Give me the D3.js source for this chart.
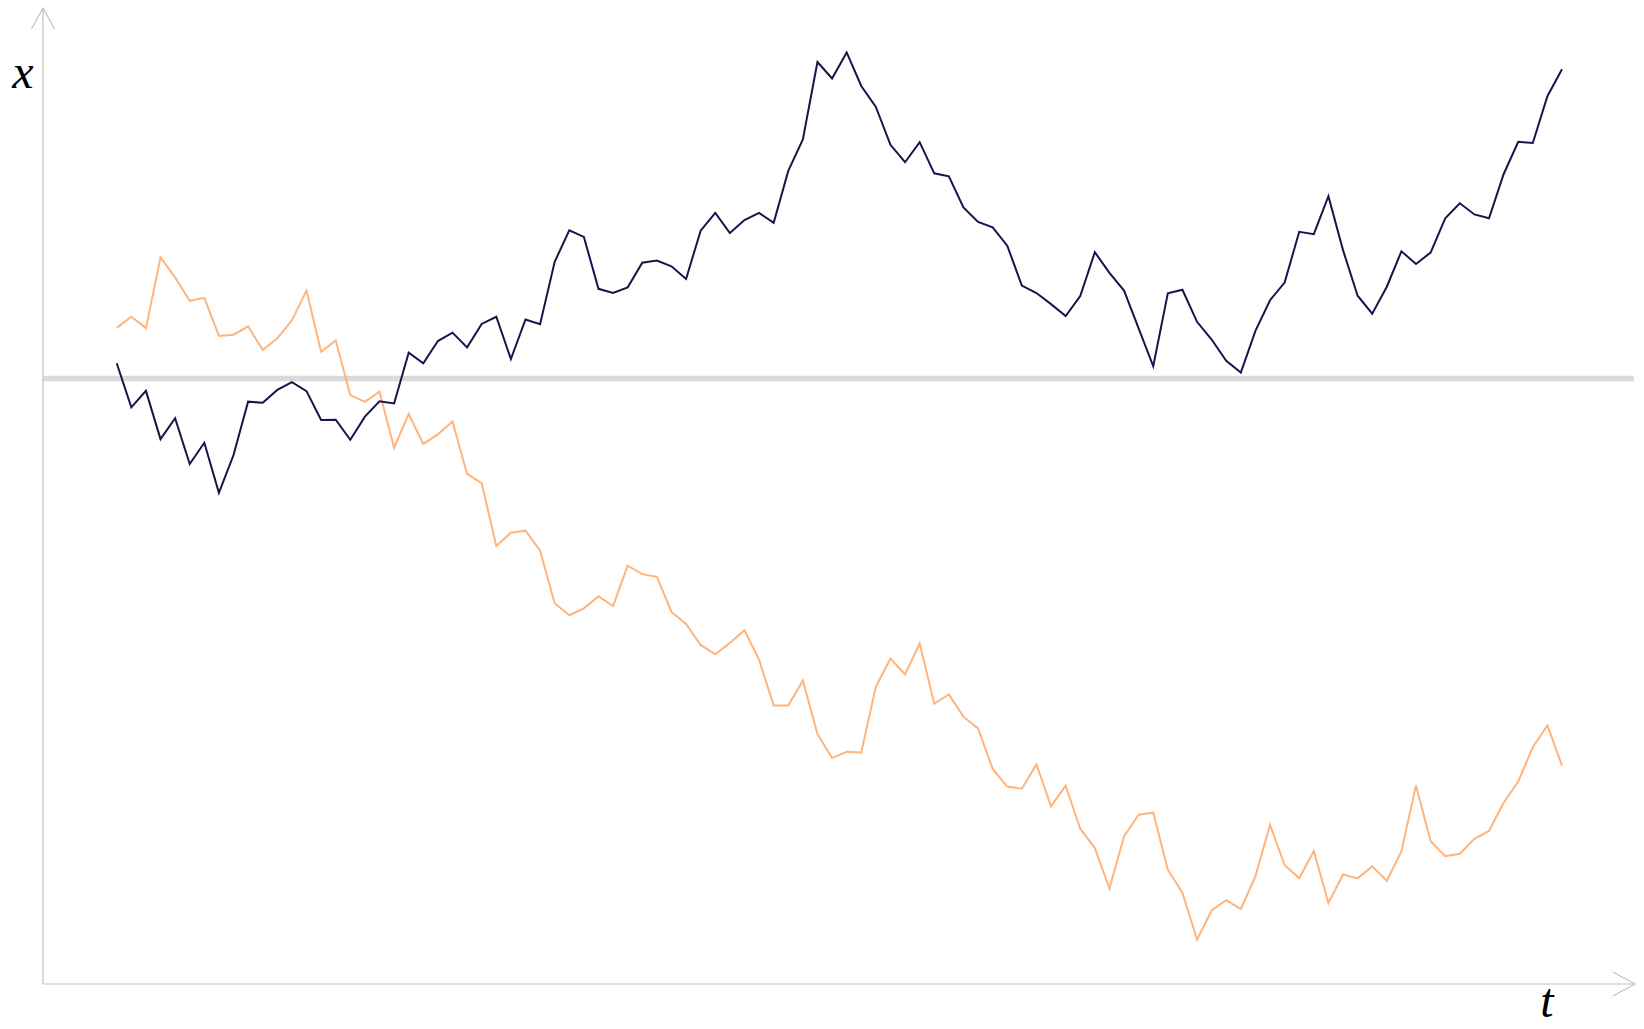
<!DOCTYPE html>
<html>
<head>
<meta charset="utf-8">
<script src="https://cdn.jsdelivr.net/npm/d3@7"></script>
<style>
  html, body { margin: 0; padding: 0; background: #fff; }
  svg { display: block; }
  .label { font-family: "Liberation Serif", "DejaVu Serif", serif; font-style: italic; font-size: 48px; fill: #000; }
</style>
</head>
<body>
<svg id="chart" width="1644" height="1029"></svg>
<script>
// Two sample paths of a random walk, x(t), sampled at 100 time steps
const pathA = [
  0.51, -0.96, -0.41, -2.02, -1.32, -2.85, -2.14, -3.81, -2.55, -0.77,
  -0.81, -0.38, -0.12, -0.42, -1.38, -1.37, -2.04, -1.27, -0.76, -0.83,
  0.86, 0.51, 1.25, 1.53, 1.04, 1.82, 2.06, 0.65, 1.97, 1.81,
  3.89, 4.94, 4.72, 2.99, 2.85, 3.04, 3.86, 3.93, 3.74, 3.32,
  4.93, 5.52, 4.85, 5.28, 5.52, 5.19, 6.92, 7.97, 10.55, 10.00,
  10.87, 9.75, 9.05, 7.79, 7.21, 7.88, 6.84, 6.74, 5.70, 5.22,
  5.04, 4.43, 3.10, 2.85, 2.48, 2.08, 2.75, 4.21, 3.52, 2.93,
  1.67, 0.41, 2.84, 2.96, 1.89, 1.30, 0.59, 0.20, 1.59, 2.61,
  3.20, 4.89, 4.81, 6.08, 4.28, 2.76, 2.16, 3.06, 4.24, 3.82,
  4.20, 5.34, 5.84, 5.47, 5.34, 6.81, 7.89, 7.85, 9.41, 10.31
];

const pathB = [
  1.69, 2.06, 1.68, 4.04, 3.37, 2.59, 2.69, 1.42, 1.46, 1.74,
  0.95, 1.34, 1.94, 2.93, 0.89, 1.27, -0.55, -0.78, -0.44, -2.31,
  -1.18, -2.18, -1.86, -1.43, -3.18, -3.49, -5.58, -5.14, -5.07, -5.74,
  -7.49, -7.89, -7.66, -7.26, -7.58, -6.24, -6.52, -6.61, -7.78, -8.18,
  -8.88, -9.19, -8.81, -8.39, -9.37, -10.90, -10.90, -10.07, -11.85, -12.65,
  -12.44, -12.46, -10.27, -9.33, -9.86, -8.83, -10.84, -10.53, -11.27, -11.66,
  -13.01, -13.60, -13.67, -12.86, -14.26, -13.57, -15.01, -15.65, -17.00, -15.26,
  -14.54, -14.47, -16.37, -17.14, -18.70, -17.73, -17.39, -17.68, -16.59, -14.87,
  -16.22, -16.65, -15.75, -17.48, -16.53, -16.66, -16.26, -16.74, -15.76, -13.56,
  -15.42, -15.92, -15.84, -15.34, -15.08, -14.14, -13.43, -12.29, -11.56, -12.90
];

const series = [
  { name: "A", values: pathA, color: "#1d1249" },
  { name: "B", values: pathB, color: "#ffb47c" }
];

const axisLabels = { x: "t", y: "x" };

const svg = d3.select("#chart");

// Axis frame: the time axis runs along the bottom, the x axis up the left side
const originX = 43, originY = 984, endX = 1635, topY = 8;

const tScale = d3.scaleLinear()
  .domain([-5.05, 104.0])
  .range([originX, endX]);

const yScale = d3.scaleLinear()
  .domain([-20.18, 12.35])
  .range([originY, topY]);

const axisColor = "#c2c2c2";

// reference level x = 0
svg.append("rect")
  .attr("x", originX)
  .attr("y", yScale(0) - 2.75)
  .attr("width", endX - 1 - originX)
  .attr("height", 5.5)
  .attr("fill", "#dadada");

// axes with open arrow heads
const axes = svg.append("g")
  .attr("fill", "none")
  .attr("stroke", axisColor)
  .attr("stroke-width", 1.2);

axes.append("line")
  .attr("x1", originX).attr("y1", originY)
  .attr("x2", originX).attr("y2", topY);
axes.append("path")
  .attr("d", `M${originX - 11.5},${topY + 21} L${originX},${topY} L${originX + 11.5},${topY + 21}`);

axes.append("line")
  .attr("x1", originX).attr("y1", originY)
  .attr("x2", endX).attr("y2", originY);
axes.append("path")
  .attr("d", `M${endX - 22},${originY - 12} L${endX},${originY} L${endX - 22},${originY + 12}`);

// the two paths
const line = d3.line()
  .x((d, i) => tScale(i))
  .y(d => yScale(d));

svg.append("g")
  .selectAll("path")
  .data(series.slice().reverse())
  .join("path")
  .attr("fill", "none")
  .attr("stroke", d => d.color)
  .attr("stroke-width", 2)
  .attr("stroke-linejoin", "miter")
  .attr("d", d => line(d.values));

// axis names
svg.append("text")
  .attr("class", "label")
  .attr("x", 23).attr("y", 88)
  .attr("text-anchor", "middle")
  .text(axisLabels.y);

svg.append("text")
  .attr("class", "label")
  .attr("x", 1547).attr("y", 1017)
  .attr("text-anchor", "middle")
  .text(axisLabels.x);
</script>
</body>
</html>
